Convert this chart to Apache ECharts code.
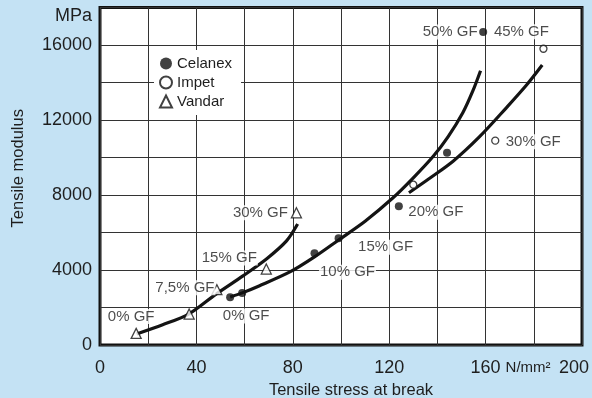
<!DOCTYPE html>
<html><head><meta charset="utf-8">
<script src="https://cdn.jsdelivr.net/npm/echarts@6/dist/echarts.min.js"></script>
<style>html,body{margin:0;padding:0;background:#c4e2f4;}#c{width:592px;height:398px;}</style>
</head><body><div id="c"></div>
<script>
// ---- data ----
const seriesNames = ['Celanex', 'Impet', 'Vandar'];
const celanexX = [54, 59, 89, 99, 124, 144, 159];
const celanexY = [2550, 2780, 4900, 5700, 7400, 10250, 16700];
const celanexLabels = ['', '0% GF', '10% GF', '15% GF', '20% GF', '', '50% GF'];
const impetX = [130, 164, 184];
const impetY = [8550, 10900, 15800];
const impetLabels = ['', '30% GF', '45% GF'];
const vandarX = [15, 37, 48.5, 69, 81.5];
const vandarY = [620, 1650, 2950, 4050, 7050];
const vandarLabels = ['0% GF', '', '7,5% GF', '15% GF', '30% GF'];

const celanexCurveX = [54, 59, 66, 79, 89, 99, 110, 121.6, 129.9, 138.2, 144.4, 150.6, 154.7, 157.9];
const celanexCurveY = [2560, 2780, 3150, 3910, 4700, 5600, 6600, 7850, 8900, 10050, 11100, 12400, 13550, 14630];
const impetCurveX = [128.2, 136.8, 146.5, 157.5, 168.6, 176.9, 183.5];
const impetCurveY = [8120, 8890, 9800, 11110, 12650, 13850, 14930];
const vandarCurveX = [15.2, 26, 36.8, 48, 59.5, 69.2, 77.4, 82];
const vandarCurveY = [590, 1080, 1650, 2700, 3700, 4600, 5550, 6450];

const xTickValues = [0, 40, 80, 120, 160, 200];
const yTickValues = [0, 4000, 8000, 12000, 16000];
const xUnit = 'N/mm²';
const yUnit = 'MPa';
const xTitle = 'Tensile stress at break';
const yTitle = 'Tensile modulus';

// ---- layout (label offsets in pixels) ----
const labelOffsets = {
  Celanex: [null, [4, 23], [33, 19], [47, 9], [37, 6], null, [-33, 0]],
  Impet: [null, [38, 1], [-22, -17]],
  Vandar: [[-5, -17], null, [-32, -2], [-37, -11], [-36, 0]]
};

const FONT = '"Liberation Sans", Arial, sans-serif';
const INK = '#1e1e1e';

function textW(str, size) {
  const c = document.createElement('canvas').getContext('2d');
  c.font = size + 'px "Liberation Sans"';
  return c.measureText(str).width;
}
const unitW = textW(' ', 18) + textW(xUnit, 15);

function zip(xs, ys) { return xs.map((x, i) => [x, ys[i]]); }
function pointData(name, xs, ys, labels) {
  return xs.map((x, i) => {
    const item = { value: [x, ys[i]] };
    if (labels[i]) {
      item.label = { show: true, formatter: labels[i], offset: labelOffsets[name][i] };
    }
    return item;
  });
}

const labelStyle = {
  show: false, position: 'inside', fontSize: 15, color: INK, fontFamily: FONT,
  backgroundColor: '#fff', padding: [0, 1], align: 'center', verticalAlign: 'middle'
};

const curve = (xs, ys) => ({
  type: 'line', data: zip(xs, ys), showSymbol: false, smooth: 0.3, silent: true, z: 2,
  lineStyle: { color: '#141414', width: 3.2 }
});

const chart = echarts.init(document.getElementById('c'), null, { renderer: 'canvas' });
chart.setOption({
  animation: false,
  backgroundColor: '#c4e2f4',
  textStyle: { fontFamily: FONT, color: INK },
  grid: { left: 100, right: 10, top: 7.5, bottom: 53, outerBoundsMode: 'none', containLabel: false,
    show: true, backgroundColor: '#fff', borderColor: '#111', borderWidth: 3 },
  legend: {
    data: seriesNames, orient: 'vertical', left: 154, top: 50, padding: [6, 9, 6, 5],
    itemWidth: 12, itemHeight: 12, itemGap: 4, itemTextGap: 6, backgroundColor: '#fff',
    textStyle: { fontSize: 15, color: INK, fontFamily: FONT }, selectedMode: false
  },
  xAxis: {
    type: 'value', min: 0, max: 200, interval: 20,
    name: xTitle, nameLocation: 'middle', nameGap: 34,
    nameTextStyle: { fontSize: 16.5, color: INK, fontFamily: FONT, padding: [0, 0, 0, 20] },
    axisLine: { show: false }, axisTick: { show: false },
    splitLine: { show: true, lineStyle: { color: '#333', width: 1 } },
    axisLabel: {
      margin: 14, fontSize: 18, color: INK, fontFamily: FONT,
      formatter: v => {
        if (xTickValues.indexOf(v) < 0) return '';
        if (v === 160) return '{pad|}160 {u|' + xUnit + '}';
        if (v === 200) return '200{gap|}';
        return String(v);
      },
      rich: { pad: { width: unitW }, u: { fontSize: 15 }, gap: { width: 16 } }
    }
  },
  yAxis: {
    type: 'value', min: 0, max: 18000, interval: 2000,
    name: yTitle, nameLocation: 'middle', nameGap: 73,
    nameTextStyle: { fontSize: 16.5, color: INK, fontFamily: FONT, padding: [0, 0, 0, 16] },
    axisLine: { show: false }, axisTick: { show: false },
    splitLine: { show: true, lineStyle: { color: '#333', width: 1 } },
    axisLabel: {
      margin: 8, fontSize: 18, color: INK, fontFamily: FONT,
      formatter: v => {
        if (v === 18000) return '{m|' + yUnit + '}';
        return yTickValues.indexOf(v) >= 0 ? String(v) : '';
      },
      rich: { m: { padding: [17, 0, 0, 0] } }
    }
  },
  series: [
    curve(celanexCurveX, celanexCurveY),
    curve(impetCurveX, impetCurveY),
    curve(vandarCurveX, vandarCurveY),
    {
      name: 'Celanex', type: 'scatter', symbol: 'circle', symbolSize: 8, z: 5,
      itemStyle: { color: '#111' }, label: labelStyle,
      data: pointData('Celanex', celanexX, celanexY, celanexLabels)
    },
    {
      name: 'Impet', type: 'scatter', symbol: 'circle', symbolSize: 7, z: 5,
      itemStyle: { color: '#fff', borderColor: '#111', borderWidth: 1.3 }, label: labelStyle,
      data: pointData('Impet', impetX, impetY, impetLabels)
    },
    {
      name: 'Vandar', type: 'scatter', symbol: 'triangle', symbolSize: 10, z: 5,
      itemStyle: { color: '#fff', borderColor: '#111', borderWidth: 1.3 }, label: labelStyle,
      data: pointData('Vandar', vandarX, vandarY, vandarLabels)
    }
  ]
});
</script></body></html>
